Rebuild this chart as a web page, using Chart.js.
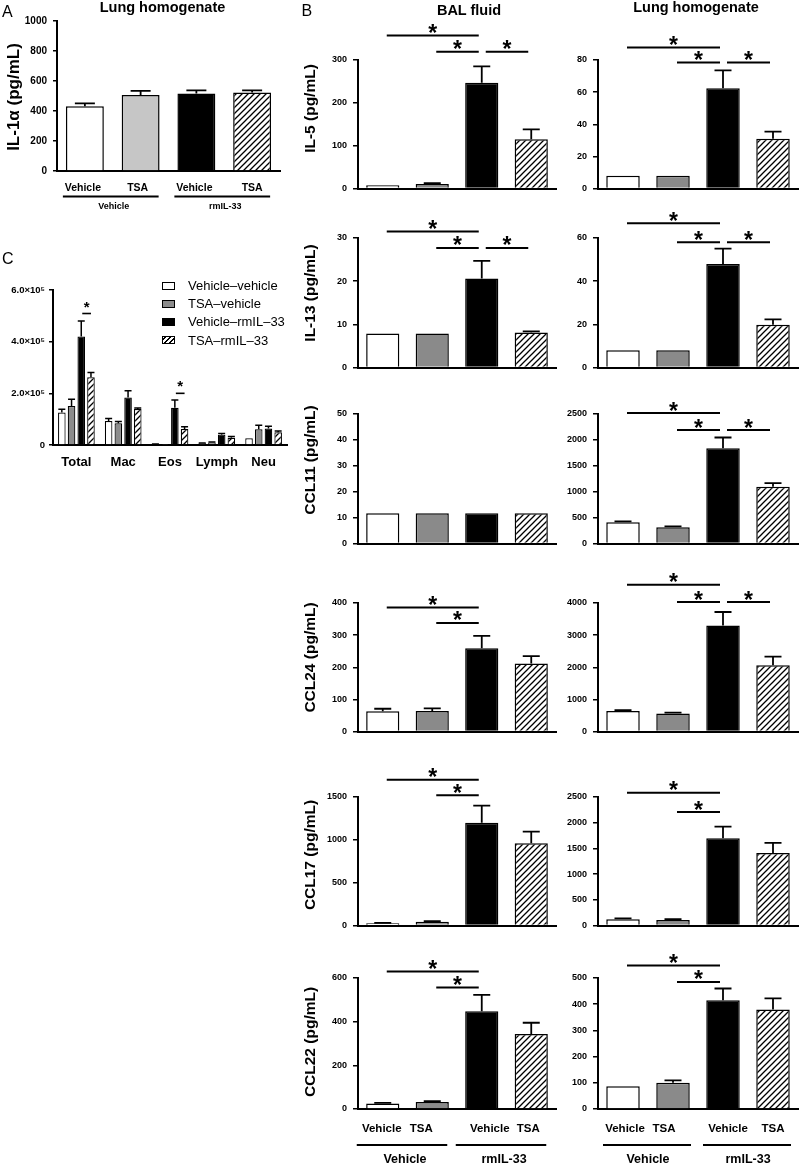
<!DOCTYPE html>
<html><head><meta charset="utf-8">
<script src="https://cdn.jsdelivr.net/npm/chart.js@4.4.1/dist/chart.umd.min.js"></script>
<style>
html,body{margin:0;padding:0;background:#fff;}
#wrap{position:relative;width:800px;height:1167px;overflow:hidden;background:#fff;font-family:'Liberation Sans',Arial,Helvetica,sans-serif;color:#000;}
#wrap canvas{position:absolute;}
.t{position:absolute;white-space:nowrap;line-height:1;}
.lg{position:absolute;box-sizing:border-box;border:1.5px solid #000;width:13px;height:8px;}
</style></head><body><div id="wrap"></div>
<script>
// ===== DATA =====
const groupLabels = ['Vehicle', 'TSA', 'Vehicle', 'TSA'];
const treatments = ['Vehicle', 'rmIL-33'];

// Panel A
const il1aLung = [431, 507, 516, 523];
const il1aLungErr = [20, 27, 22, 15];
const il1aTicks = [0, 200, 400, 600, 800, 1000];

// Panel B (BAL fluid / Lung homogenate)
const il5Bal = [8, 11, 247, 115];        const il5BalErr = [0, 2, 38, 23];
const il5BalTicks = [0, 100, 200, 300];  const il5BalSig = [[0, 2, 357], [1, 2, 319], [2, 3, 319]];
const il5Lung = [8, 8, 62.5, 31];        const il5LungErr = [0, 0, 11, 4.5];
const il5LungTicks = [0, 20, 40, 60, 80]; const il5LungSig = [[0, 2, 87.7], [1, 2, 78.4], [2, 3, 78.4]];

const il13Bal = [7.9, 7.9, 20.6, 8.1];   const il13BalErr = [0, 0, 4.1, 0.3];
const il13BalTicks = [0, 10, 20, 30];    const il13BalSig = [[0, 2, 31.5], [1, 2, 27.7], [2, 3, 27.7]];
const il13Lung = [8, 8, 48, 19.8];       const il13LungErr = [0, 0, 7.1, 2.5];
const il13LungTicks = [0, 20, 40, 60];   const il13LungSig = [[0, 2, 66.8], [1, 2, 58], [2, 3, 58]];

const ccl11Bal = [11.7, 11.7, 11.7, 11.7]; const ccl11BalErr = [0, 0, 0, 0];
const ccl11BalTicks = [0, 10, 20, 30, 40, 50]; const ccl11BalSig = [];
const ccl11Lung = [410, 315, 1840, 1095]; const ccl11LungErr = [18, 18, 207, 70];
const ccl11LungTicks = [0, 500, 1000, 1500, 2000, 2500]; const ccl11LungSig = [[0, 2, 2519], [1, 2, 2190], [2, 3, 2190]];

const ccl24Bal = [63, 64, 259, 212];     const ccl24BalErr = [8, 8, 39, 23];
const ccl24BalTicks = [0, 100, 200, 300, 400]; const ccl24BalSig = [[0, 2, 386], [1, 2, 338]];
const ccl24Lung = [640, 565, 3300, 2060]; const ccl24LungErr = [25, 25, 420, 270];
const ccl24LungTicks = [0, 1000, 2000, 3000, 4000]; const ccl24LungSig = [[0, 2, 4565], [1, 2, 4030], [2, 3, 4030]];

const ccl17Bal = [28, 45, 1200, 960];    const ccl17BalErr = [3, 6, 200, 135];
const ccl17BalTicks = [0, 500, 1000, 1500]; const ccl17BalSig = [[0, 2, 1700], [1, 2, 1519]];
const ccl17Lung = [125, 108, 1700, 1410]; const ccl17LungErr = [15, 15, 225, 200];
const ccl17LungTicks = [0, 500, 1000, 1500, 2000, 2500]; const ccl17LungSig = [[0, 2, 2583], [1, 2, 2206]];

const ccl22Bal = [25, 32, 448, 343];     const ccl22BalErr = [3, 4, 75, 52];
const ccl22BalTicks = [0, 200, 400, 600]; const ccl22BalSig = [[0, 2, 630], [1, 2, 556]];
const ccl22Lung = [87, 100, 415, 380];   const ccl22LungErr = [0, 9, 45, 42];
const ccl22LungTicks = [0, 100, 200, 300, 400, 500]; const ccl22LungSig = [[0, 2, 548], [1, 2, 485]];

// Panel C
const cellTypes = ['Total', 'Mac', 'Eos', 'Lymph', 'Neu'];
const seriesNames = ['Vehicle\u2013vehicle', 'TSA\u2013vehicle', 'Vehicle\u2013rmIL\u201333', 'TSA\u2013rmIL\u201333'];
const cVehVeh = [126000, 93000, 3000, 7000, 26000];     const cVehVehErr = [12000, 10000, 1000, 1000, 0];
const cTsaVeh = [151000, 84000, 1000, 10000, 61000];    const cTsaVehErr = [26000, 7000, 0, 1500, 15000];
const cVehIL33 = [420000, 184000, 144000, 40000, 64000]; const cVehIL33Err = [60000, 26000, 30000, 5000, 9000];
const cTsaIL33 = [262000, 139000, 62000, 28000, 49000];  const cTsaIL33Err = [19000, 4000, 9000, 5000, 5000];
const cTicks = [0, 200000, 400000, 600000];
const cSig = [[0, 509000], [2, 200000]];

// ===== LAYOUT / STYLE =====
const FAM = "'Liberation Sans', Arial, Helvetica, sans-serif";
Chart.defaults.font.family = FAM;
const wrap = document.getElementById('wrap');
const layout = {
  rowTop:    [60, 238, 414, 603, 797, 978],
  rowBottom: [192, 371, 547, 735, 929, 1109],
  titleMid:  [108.5, 293, 460, 657.5, 855, 1042]
};

function hatch(s, lw) {
  const c = document.createElement('canvas'); c.width = s; c.height = s;
  const g = c.getContext('2d');
  g.fillStyle = '#fff'; g.fillRect(0, 0, s, s);
  g.strokeStyle = '#000'; g.lineWidth = lw;
  g.beginPath();
  g.moveTo(0, s); g.lineTo(s, 0);
  g.moveTo(-s / 2, s / 2); g.lineTo(s / 2, -s / 2);
  g.moveTo(s / 2, s * 1.5); g.lineTo(s * 1.5, s / 2);
  g.stroke();
  return g.createPattern(c, 'repeat');
}
const HATCH = hatch(6, 1.3);

function mk(left, top, w, h) {
  const c = document.createElement('canvas');
  c.width = w; c.height = h;
  c.style.left = left + 'px'; c.style.top = top + 'px';
  c.style.width = w + 'px'; c.style.height = h + 'px';
  wrap.appendChild(c);
  return c;
}
function txt(s, x, base, size, weight, align) {
  const d = document.createElement('div');
  d.className = 't'; d.textContent = s;
  d.style.fontSize = size + 'px'; d.style.fontWeight = weight;
  d.style.top = (base - 0.8465 * size) + 'px';
  d.style.left = x + 'px';
  if (align === 'center') d.style.transform = 'translateX(-50%)';
  wrap.appendChild(d);
  return d;
}

function annot(cfg) {
  return {
    id: 'annot',
    afterDatasetsDraw(chart) {
      const ctx = chart.ctx, ys = chart.scales.y, xs = chart.scales.x, ca = chart.chartArea;
      ctx.save();
      ctx.strokeStyle = '#000'; ctx.fillStyle = '#000'; ctx.lineCap = 'butt';
      chart.data.datasets.forEach((ds, di) => {
        if (!ds.errorBars) return;
        const meta = chart.getDatasetMeta(di);
        meta.data.forEach((bar, i) => {
          const e = ds.errorBars[i]; if (!e) return;
          const x = bar.x, y0 = ys.getPixelForValue(ds.data[i]), y1 = ys.getPixelForValue(ds.data[i] + e);
          ctx.lineWidth = cfg.errLW;
          ctx.beginPath();
          ctx.moveTo(x, y0); ctx.lineTo(x, y1);
          ctx.moveTo(x - cfg.cap / 2, y1); ctx.lineTo(x + cfg.cap / 2, y1);
          ctx.stroke();
        });
      });
      if (cfg.sig && cfg.sig.length) {
        ctx.font = 'bold ' + cfg.starSize + 'px ' + FAM;
        const m = ctx.measureText('*');
        const off = (m.actualBoundingBoxDescent - m.actualBoundingBoxAscent) / 2;
        cfg.sig.forEach(s => {
          let xa, xb, lv;
          if (cfg.sigMode === 'pair') {
            xa = chart.getDatasetMeta(2).data[s[0]].x + 1;
            xb = chart.getDatasetMeta(3).data[s[0]].x;
            lv = s[1];
          } else {
            const d = chart.getDatasetMeta(0).data;
            xa = d[s[0]].x + 4; xb = d[s[1]].x - 3; lv = s[2];
          }
          const y = ys.getPixelForValue(lv);
          ctx.lineWidth = cfg.sigLW;
          ctx.beginPath(); ctx.moveTo(xa, y); ctx.lineTo(xb, y); ctx.stroke();
          ctx.textAlign = 'center'; ctx.textBaseline = 'alphabetic';
          ctx.fillText('*', (xa + xb) / 2, y - cfg.starGap - off);
        });
      }
      if (cfg.ytitle) {
        const t = cfg.ytitle;
        ctx.save();
        ctx.translate(t.x, t.y); ctx.rotate(-Math.PI / 2);
        ctx.font = 'bold ' + t.size + 'px ' + FAM;
        ctx.textAlign = 'center'; ctx.textBaseline = 'alphabetic';
        ctx.fillText(t.text, 0, 0);
        ctx.restore();
      }
      if (cfg.xlab) {
        const L = cfg.xlab;
        ctx.font = 'bold ' + L.size + 'px ' + FAM;
        ctx.textAlign = 'center'; ctx.textBaseline = 'alphabetic';
        L.texts.forEach((s, i) => ctx.fillText(s, xs.getPixelForValue(i) + (L.dx ? L.dx[i] : 0), ca.bottom + L.dy));
      }
      if (cfg.groups) {
        const G = cfg.groups;
        ctx.font = 'bold ' + G.size + 'px ' + FAM;
        ctx.textAlign = 'center'; ctx.textBaseline = 'alphabetic';
        ctx.lineWidth = G.lw;
        G.pairs.forEach(p => {
          const a = xs.getPixelForValue(p[0]) + G.l, b = xs.getPixelForValue(p[1]) + G.r, y = ca.bottom + G.lineDy;
          ctx.beginPath(); ctx.moveTo(a, y); ctx.lineTo(b, y); ctx.stroke();
          ctx.fillText(p[2], (a + b) / 2 + G.textDx, ca.bottom + G.textDy);
        });
      }
      ctx.restore();
    }
  };
}

function opts(ticks, yW, pad, tickSize, tickLen, tickPad, fmt) {
  return {
    responsive: false, animation: false, devicePixelRatio: 1,
    layout: { padding: pad },
    plugins: { legend: { display: false }, tooltip: { enabled: false } },
    scales: {
      x: {
        ticks: { display: false }, grid: { display: false },
        border: { display: true, color: '#000', width: 2 },
        afterFit: s => { s.height = 2; }
      },
      y: {
        min: 0, max: ticks[ticks.length - 1],
        afterBuildTicks: a => { a.ticks = ticks.map(v => ({ value: v })); },
        afterFit: s => { s.width = yW; },
        border: { display: true, color: '#000', width: 2 },
        grid: { display: true, drawOnChartArea: false, drawTicks: true, tickLength: tickLen, color: '#000', lineWidth: 1.5 },
        ticks: { color: '#000', padding: tickPad, font: { family: FAM, size: tickSize, weight: 'bold' }, callback: fmt || (v => String(v)) }
      }
    }
  };
}

// ===== PANEL A =====
(function () {
  const cv = mk(0, 0, 282, 215);
  const cfg = {
    cap: 20, errLW: 1.8,
    ytitle: { text: 'IL-1\u03b1 (pg/mL)', x: 18.5, y: 97, size: 17 },
    xlab: { texts: groupLabels, dx: [-2, -3, -2, 0], dy: 19.5, size: 10.5 },
    groups: { pairs: [[0, 1, treatments[0]], [2, 3, treatments[1]]], l: -22, r: 18, lineDy: 25.5, textDy: 38, size: 9, lw: 2, textDx: 3 }
  };
  new Chart(cv, {
    type: 'bar',
    data: { labels: groupLabels, datasets: [{ data: il1aLung, errorBars: il1aLungErr,
      backgroundColor: ['#ffffff', '#c6c6c6', '#000000', HATCH], borderColor: '#000', borderWidth: 1.5,
      barPercentage: 0.68, categoryPercentage: 1 }] },
    options: opts(il1aTicks, 57, { top: 21, bottom: 42, left: 0, right: 2 }, 10, 4, 6),
    plugins: [annot(cfg)]
  });
})();

// ===== PANEL B =====
function bChart(col, row, vals, errs, ticks, sig, title) {
  const left = col ? 540 : 300, w = col ? 260 : 258;
  const T = layout.rowTop[row], B = layout.rowBottom[row];
  const top = T - 60, isLast = row === 5;
  const padBottom = isLast ? 1167 - B - 2 : 6;
  const h = B - T + 60 + 2 + padBottom;
  const cv = mk(left, top, w, h);
  const cfg = {
    cap: 17, errLW: 1.8, sig: sig, sigMode: 'single', sigLW: 2, starSize: 23, starGap: 7,
    ytitle: title ? { text: title, x: 15, y: layout.titleMid[row] - top, size: 15.5 } : null,
    xlab: isLast ? { texts: groupLabels, dx: col ? [2, -9, 5, 0] : [-1, -11, 8, -3], dy: 23, size: 11.5 } : null,
    groups: isLast ? { pairs: [[0, 1, treatments[0]], [2, 3, treatments[1]]], l: col ? -20 : -26, r: col ? 18 : 15,
      lineDy: 36, textDy: 54, size: 12.5, lw: 2, textDx: col ? 1 : 3 } : null
  };
  new Chart(cv, {
    type: 'bar',
    data: { labels: groupLabels, datasets: [{ data: vals, errorBars: errs,
      backgroundColor: ['#ffffff', '#8a8a8a', '#000000', HATCH], borderColor: '#000', borderWidth: 1.5,
      barPercentage: 0.67, categoryPercentage: 1 }] },
    options: opts(ticks, 58, { top: 60, bottom: padBottom, left: 0, right: 2 }, 9, 5, 6),
    plugins: [annot(cfg)]
  });
}
bChart(0, 0, il5Bal, il5BalErr, il5BalTicks, il5BalSig, 'IL-5 (pg/mL)');
bChart(1, 0, il5Lung, il5LungErr, il5LungTicks, il5LungSig, null);
bChart(0, 1, il13Bal, il13BalErr, il13BalTicks, il13BalSig, 'IL-13 (pg/mL)');
bChart(1, 1, il13Lung, il13LungErr, il13LungTicks, il13LungSig, null);
bChart(0, 2, ccl11Bal, ccl11BalErr, ccl11BalTicks, ccl11BalSig, 'CCL11 (pg/mL)');
bChart(1, 2, ccl11Lung, ccl11LungErr, ccl11LungTicks, ccl11LungSig, null);
bChart(0, 3, ccl24Bal, ccl24BalErr, ccl24BalTicks, ccl24BalSig, 'CCL24 (pg/mL)');
bChart(1, 3, ccl24Lung, ccl24LungErr, ccl24LungTicks, ccl24LungSig, null);
bChart(0, 4, ccl17Bal, ccl17BalErr, ccl17BalTicks, ccl17BalSig, 'CCL17 (pg/mL)');
bChart(1, 4, ccl17Lung, ccl17LungErr, ccl17LungTicks, ccl17LungSig, null);
bChart(0, 5, ccl22Bal, ccl22BalErr, ccl22BalTicks, ccl22BalSig, 'CCL22 (pg/mL)');
bChart(1, 5, ccl22Lung, ccl22LungErr, ccl22LungTicks, ccl22LungSig, null);

// ===== PANEL C =====
(function () {
  const cv = mk(0, 250, 290, 230);
  const cfg = {
    cap: 7, errLW: 1.5, sig: cSig, sigMode: 'pair', sigLW: 1.6, starSize: 15, starGap: 9,
    xlab: { texts: cellTypes, dy: 21, size: 13 }
  };
  const fills = ['#ffffff', '#8c8c8c', '#000000', HATCH];
  const vals = [cVehVeh, cTsaVeh, cVehIL33, cTsaIL33];
  const errs = [cVehVehErr, cTsaVehErr, cVehIL33Err, cTsaIL33Err];
  new Chart(cv, {
    type: 'bar',
    data: { labels: cellTypes, datasets: vals.map((v, i) => ({ label: seriesNames[i], data: v, errorBars: errs[i],
      backgroundColor: fills[i], borderColor: '#000', borderWidth: 1.2, barPercentage: 0.78, categoryPercentage: 0.83 })) },
    options: opts(cTicks, 53, { top: 40, bottom: 33, left: 0, right: 3 }, 9.5, 4, 4,
      v => v === 0 ? '0' : (v / 1e5).toFixed(1) + '\u00d710\u2075'),
    plugins: [annot(cfg)]
  });
  // legend
  const lgFill = ['#fff', '#8c8c8c', '#000', 'repeating-linear-gradient(-45deg, #fff 0 2.3px, #000 2.3px 3.6px)'];
  const cy = [285.5, 303.5, 321.7, 340];
  seriesNames.forEach((n, i) => {
    const b = document.createElement('div'); b.className = 'lg';
    b.style.left = '162px'; b.style.top = (cy[i] - 4) + 'px'; b.style.background = lgFill[i];
    wrap.appendChild(b);
    txt(n, 188, cy[i] + 4.6, 13, 'normal', 'left');
  });
})();

// ===== Headings =====
txt('A', 2, 18, 16, 'normal', 'left');
txt('Lung homogenate', 162.5, 12.3, 14.5, 'bold', 'center');
txt('B', 301.5, 16.7, 16, 'normal', 'left');
txt('BAL fluid', 469, 15, 14.5, 'bold', 'center');
txt('Lung homogenate', 696, 12.5, 14.5, 'bold', 'center');
txt('C', 2, 265, 16, 'normal', 'left');
</script></body></html>
